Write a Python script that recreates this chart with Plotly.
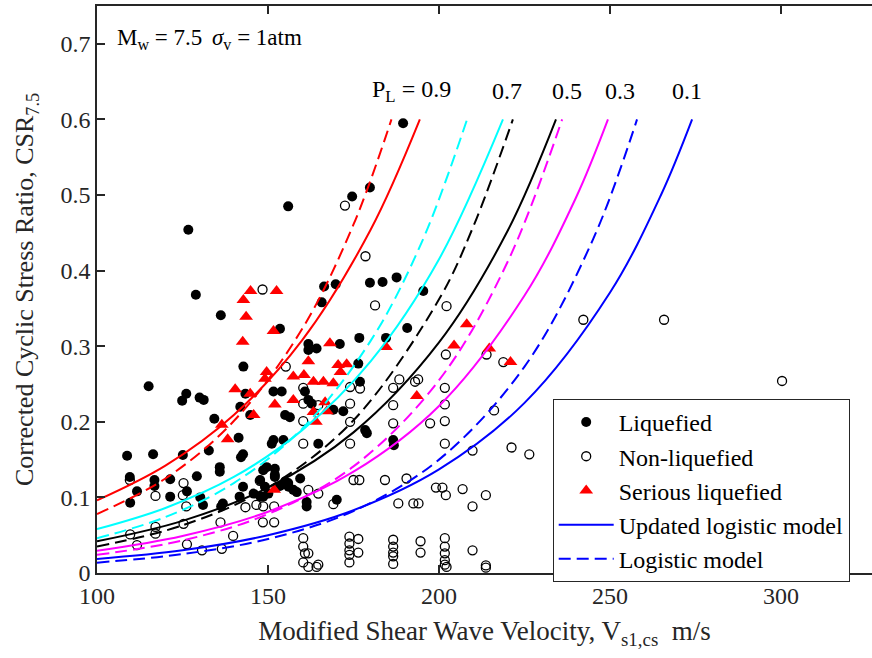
import plotly.graph_objects as go

# ---------------- data ----------------
liq_v = [115.1,126.1,124.9,130.0,131.2,134.3,143.4,141.9,144.8,141.4,108.8,116.4,125.1,132.7,142.7,142.1,
         135.9,135.9,129.2,109.6,116.8,121.4,111.7,116.8,121.4,126.3,130.2,131.0,109.7,136.8,136.3,142.7,
         141.7,145.8,147.8,
         151.6,154.0,160.8,161.8,162.8,169.1,172.0,155.0,156.4,176.9,178.4,178.9,186.6,186.8,151.6,151.1,
         154.5,164.7,148.6,149.6,152.0,152.0,147.7,149.1,150.1,153.5,155.9,157.4,159.4,148.6,161.3,161.3,
         170.1,152.0,155.0,156.0,158.4,
         136.2,153.5,165.7,161.8,164.2,161.8,142.8,126.7,155.9,128.9,166.4,169.8,179.8,174.6,179.8,183.5,
         187.6,176.7,184.5,171.0,176.4,190.7,189.5,195.4]
liq_csr = [0.247,0.237,0.228,0.232,0.229,0.204,0.237,0.220,0.209,0.179,0.155,0.157,0.156,0.162,0.157,0.153,
           0.140,0.134,0.128,0.127,0.123,0.124,0.108,0.115,0.101,0.108,0.100,0.090,0.093,0.092,0.088,0.114,
           0.101,0.105,0.101,
           0.240,0.240,0.240,0.229,0.224,0.216,0.214,0.209,0.206,0.253,0.189,0.185,0.176,0.169,0.176,0.171,
           0.176,0.171,0.136,0.140,0.138,0.130,0.123,0.114,0.105,0.115,0.119,0.110,0.125,0.101,0.094,0.088,
           0.097,0.127,0.121,0.114,0.107,
           0.341,0.323,0.358,0.303,0.297,0.295,0.273,0.454,0.485,0.368,0.379,0.382,0.510,0.498,0.384,0.385,
           0.391,0.311,0.311,0.303,0.277,0.324,0.595,0.373]

non_v = [109.6,117.1,125.3,125.1,126.1,125.3,117.1,117.1,109.7,111.7,126.3,130.7,136.5,139.8,136.1,143.4,
         146.6,147.6,148.5,155.2,
         160.3,160.3,160.3,160.3,164.7,174.0,176.9,174.0,174.0,174.0,186.6,193.0,186.6,186.6,197.4,161.8,
         164.7,175.0,176.7,184.2,190.5,169.1,188.1,192.5,194.0,151.8,148.6,151.8,188.4,193.9,
         160.3,160.3,160.8,161.8,160.3,161.8,164.2,164.7,
         173.8,173.8,173.8,173.8,173.8,176.4,176.4,
         186.6,186.6,186.6,186.6,186.6,194.6,194.6,
         202.2,202.0,213.9,218.8,201.7,201.7,201.7,201.7,216.1,209.8,221.2,226.4,199.1,201.0,202.0,206.9,
         213.7,209.8,
         201.7,201.7,201.7,201.7,201.7,202.2,209.8,213.7,213.7,
         181.3,172.5,178.5,148.4,242.2,265.8,300.3]
non_csr = [0.123,0.102,0.119,0.103,0.088,0.065,0.061,0.052,0.051,0.037,0.038,0.030,0.032,0.049,0.067,0.087,
           0.090,0.122,0.067,0.273,
           0.245,0.224,0.201,0.171,0.222,0.246,0.244,0.224,0.200,0.171,0.245,0.253,0.222,0.198,0.198,0.110,
           0.105,0.123,0.123,0.123,0.125,0.091,0.092,0.092,0.092,0.067,0.088,0.088,0.256,0.256,
           0.046,0.035,0.026,0.026,0.014,0.008,0.008,0.011,
           0.048,0.039,0.030,0.024,0.014,0.045,0.027,
           0.044,0.035,0.027,0.022,0.012,0.042,0.027,
           0.353,0.289,0.289,0.279,0.245,0.223,0.201,0.171,0.215,0.162,0.166,0.157,0.113,0.113,0.103,0.111,
           0.103,0.088,
           0.046,0.035,0.026,0.017,0.011,0.008,0.030,0.010,0.007,
           0.354,0.486,0.419,0.375,0.335,0.335,0.254]

ser_v = [140.4,144.8,145.8,136.5,138.2,163.3,166.2,169.1,152.0,157.4,163.3,167.2,166.7,164.0,193.5,151.8,
         208.1,204.4,214.7,220.9,184.5,170.5,173.0,171.2,142.8,143.6,142.6,151.6,168.1,161.8,149.1,157.4,
         160.5,144.9,152.5,149.6]
ser_csr = [0.243,0.237,0.209,0.196,0.177,0.253,0.253,0.251,0.223,0.229,0.213,0.214,0.226,0.200,0.234,0.110,
           0.329,0.301,0.297,0.279,0.299,0.275,0.276,0.266,0.361,0.339,0.306,0.320,0.304,0.280,0.257,0.260,
           0.262,0.373,0.373,0.266]

# probability curves (PL = 0.9, 0.7, 0.5, 0.3, 0.1): updated logistic (solid) and logistic (dashed)
upd09_v = [100, 120, 140, 160, 180, 194.4]
upd09_c = [0.096, 0.142, 0.209, 0.308, 0.454, 0.600]
log09_v = [100, 120, 140, 160, 175, 186.1]
log09_c = [0.078, 0.125, 0.201, 0.323, 0.461, 0.600]
upd07_v = [100, 120, 140, 160, 180, 200, 218.7]
upd07_c = [0.058, 0.086, 0.127, 0.189, 0.280, 0.415, 0.600]
log07_v = [100, 120, 140, 160, 180, 195, 208.2]
log07_c = [0.046, 0.074, 0.119, 0.191, 0.307, 0.438, 0.600]
upd05_v = [100, 125, 150, 175, 200, 220, 234.2]
upd05_c = [0.042, 0.069, 0.113, 0.186, 0.305, 0.452, 0.600]
log05_v = [100, 125, 150, 175, 200, 210, 221.6]
log05_c = [0.035, 0.063, 0.113, 0.202, 0.362, 0.458, 0.600]
upd03_v = [100, 125, 150, 175, 200, 225, 240, 249.4]
upd03_c = [0.0295, 0.049, 0.081, 0.134, 0.221, 0.367, 0.496, 0.600]
log03_v = [100, 125, 150, 175, 200, 220, 236]
log03_c = [0.024, 0.043, 0.078, 0.141, 0.255, 0.411, 0.600]
upd01_v = [100, 125, 150, 175, 200, 225, 250, 265, 274]
upd01_c = [0.0185, 0.030, 0.050, 0.083, 0.137, 0.225, 0.371, 0.501, 0.600]
log01_v = [100, 125, 150, 175, 200, 225, 245, 257.9]
log01_c = [0.0137, 0.025, 0.045, 0.082, 0.150, 0.273, 0.441, 0.600]

pl_labels = ["P<sub>L</sub> = 0.9", "0.7", "0.5", "0.3", "0.1"]
pl_label_v = [192.1, 219.9, 237.4, 252.9, 272.5]

x_ticks = [100, 150, 200, 250, 300]
y_ticks = [0, 0.1, 0.2, 0.3, 0.4, 0.5, 0.6, 0.7]

# ---------------- figure ----------------
FONT = "Liberation Serif"
fig = go.Figure()

fig.add_trace(go.Scatter(x=liq_v, y=liq_csr, mode="markers", name="Liquefied",
                         marker=dict(symbol="circle", size=10, color="black"), legendrank=1))
fig.add_trace(go.Scatter(x=non_v, y=non_csr, mode="markers", name="Non-liquefied",
                         marker=dict(symbol="circle-open", size=9, color="black", line=dict(width=1.3)),
                         legendrank=2))
fig.add_trace(go.Scatter(x=ser_v, y=ser_csr, mode="markers", name="Serious liquefied",
                         marker=dict(symbol="triangle-up", size=12, color="#FF0000"), legendrank=3))

DASH = "12px,6px"
curves = [
    (upd09_v, upd09_c, "#FF0000", "solid"), (log09_v, log09_c, "#FF0000", "dash"),
    (upd07_v, upd07_c, "#00FFFF", "solid"), (log07_v, log07_c, "#00FFFF", "dash"),
    (upd05_v, upd05_c, "black", "solid"), (log05_v, log05_c, "black", "dash"),
    (upd03_v, upd03_c, "#FF00FF", "solid"), (log03_v, log03_c, "#FF00FF", "dash"),
]
for xv, yv, col, dsh in curves:
    fig.add_trace(go.Scatter(x=xv, y=yv, mode="lines", showlegend=False,
                             line=dict(color=col, width=2, dash="solid" if dsh == "solid" else DASH,
                                       shape="spline")))
fig.add_trace(go.Scatter(x=upd01_v, y=upd01_c, mode="lines", name="Updated logistic model",
                         line=dict(color="#0000FF", width=2, shape="spline"), legendrank=4))
fig.add_trace(go.Scatter(x=log01_v, y=log01_c, mode="lines", name="Logistic model",
                         line=dict(color="#0000FF", width=2, dash=DASH, shape="spline"), legendrank=5))

# annotations
fig.add_annotation(x=105.3, y=0.706, xref="x", yref="y", text="M<sub>w</sub> = 7.5", showarrow=False,
                   xanchor="left", yanchor="middle", font=dict(family=FONT, size=23, color="black"))
fig.add_annotation(x=133.0, y=0.706, xref="x", yref="y", text="<i>σ</i><sub>v</sub> = 1atm", showarrow=False,
                   xanchor="left", yanchor="middle", font=dict(family=FONT, size=23, color="black"))
for lab, lv in zip(pl_labels, pl_label_v):
    fig.add_annotation(x=lv, y=0.637, xref="x", yref="y", text=lab, showarrow=False,
                       xanchor="center", yanchor="middle", font=dict(family=FONT, size=24, color="black"))

axis_common = dict(showline=True, linecolor="#262626", linewidth=1.5, ticks="inside", ticklen=8,
                   tickwidth=1.5, tickcolor="#262626", showgrid=False, zeroline=False,
                   tickfont=dict(family=FONT, size=24, color="#262626"))
fig.update_xaxes(range=[100, 326.6], tickvals=x_ticks, mirror="ticks",
                 title=dict(text="Modified Shear Wave Velocity, V<sub>s1,cs</sub>  m/s",
                            font=dict(family=FONT, size=27, color="#262626"), standoff=14),
                 **axis_common)
fig.update_yaxes(range=[0, 0.75], tickvals=y_ticks, mirror=False,
                 title=dict(text="Corrected Cyclic Stress Ratio, CSR<sub>7.5</sub>",
                            font=dict(family=FONT, size=26, color="#262626"), standoff=19),
                 **axis_common)

fig.update_layout(
    width=872, height=658,
    margin=dict(l=97, r=0, t=6, b=85),
    plot_bgcolor="white", paper_bgcolor="white",
    legend=dict(x=0.588, y=0.307, xanchor="left", yanchor="top", bgcolor="white",
                bordercolor="#262626", borderwidth=1, itemwidth=55,
                font=dict(family=FONT, size=24, color="black"), tracegroupgap=0),
)

fig.write_html("out.html")
